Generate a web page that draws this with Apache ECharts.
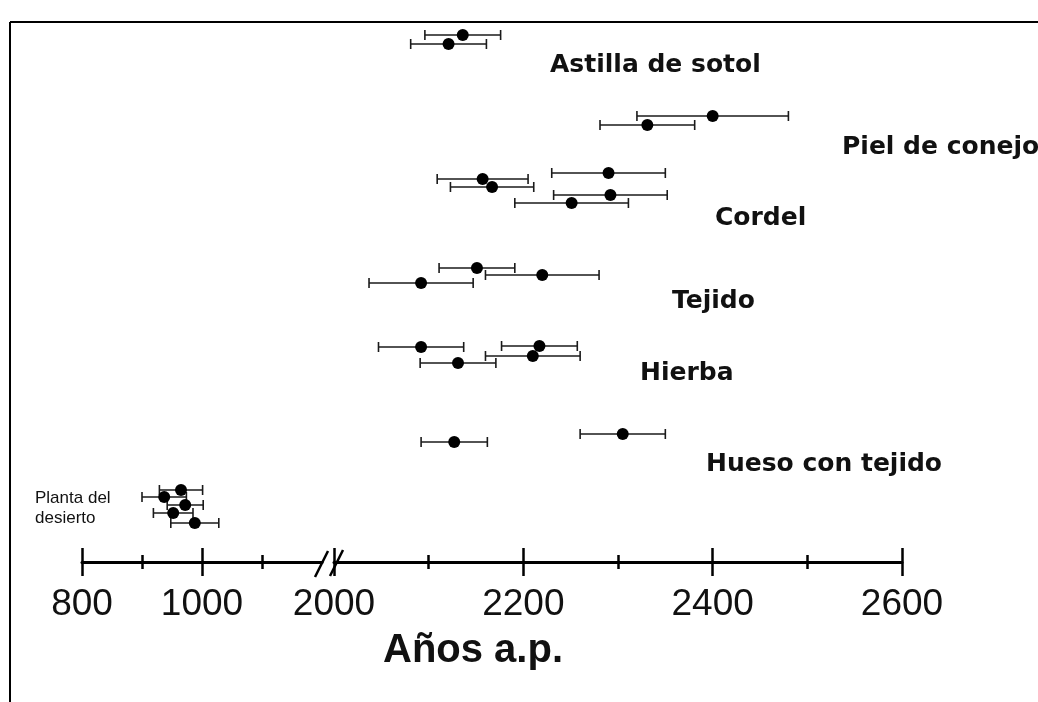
<!DOCTYPE html>
<html>
<head>
<meta charset="utf-8">
<script src="https://cdn.jsdelivr.net/npm/echarts@6/dist/echarts.min.js"></script>
<style>
  html, body { margin: 0; background: #fff; }
  #chart { width: 1038px; height: 702px; }
</style>
</head>
<body>
<div id="chart"></div>
<script>
// each point: [age (años a.p.), error (±), row (vertical place, 0 = top)]
const sotol = [[2136, 40, 2.6], [2121, 40, 4.4]]
const conejo = [[2400, 80, 18.8], [2331, 50, 20.6]]
const cordel = [[2290, 60, 30.2], [2157, 48, 31.4], [2167, 44, 33], [2292, 60, 34.6], [2251, 60, 36.2]]
const tejido = [[2151, 40, 49.2], [2220, 60, 50.6], [2092, 55, 52.2]]
const hierba = [[2092, 45, 65], [2217, 40, 64.8], [2210, 50, 66.8], [2131, 40, 68.2]]
const hueso = [[2305, 45, 82.4], [2127, 35, 84]]
const planta = [[965, 36, 93.6], [937, 37, 95], [972, 30, 96.6], [952, 33, 98.2], [988, 40, 100.2]]

const groupNames = ['Astilla de sotol', 'Piel de conejo', 'Cordel', 'Tejido', 'Hierba', 'Hueso con tejido']
const plantaName = 'Planta del\ndesierto'

const leftMajor = [800, 1000]
const leftMinor = [900, 1100]
const rightMajor = [2000, 2200, 2400, 2600]
const rightMinor = [2100, 2300, 2500]

const INK = '#111'
const segments = [
  { left: 82, width: 240, min: 800, max: 1200, major: leftMajor, minor: leftMinor },
  { left: 334, width: 568, min: 2000, max: 2600, major: rightMajor, minor: rightMinor },
]

// each segment gets 4 stacked grids (same bottom) so the ticks can cross the line:
// 0 = data + line + labels + long ticks down, 1 = long ticks up, 2 = short down, 3 = short up
const grids = []
const xAxes = []
const yAxes = []
segments.forEach((s) => {
  for (let k = 0; k < 4; k++) {
    const g = grids.length
    grids.push({ left: s.left, width: s.width, top: 22, height: 540 })
    const values = k < 2 ? s.major : s.minor
    const len = k < 2 ? 14 : 7
    xAxes.push({
      type: 'value', gridIndex: g, min: s.min, max: s.max, position: 'bottom',
      splitLine: { show: false },
      axisLine: { show: k === 0, onZero: false, lineStyle: { color: '#000', width: 3 } },
      axisTick: { show: true, customValues: values, length: len, inside: k % 2 === 1, lineStyle: { color: '#000', width: 2.5 } },
      axisLabel: {
        show: k === 0, customValues: s.major, margin: 24, fontSize: 37,
        fontFamily: 'Liberation Sans', color: INK, formatter: (v) => String(v),
      },
    })
    yAxes.push({ type: 'value', gridIndex: g, min: 0, max: 108, inverse: true, show: false })
  }
})

function renderErrorBar(params, api) {
  const y = api.value(1)
  const lo = api.coord([api.value(2), y])
  const hi = api.coord([api.value(3), y])
  const h = 5
  const style = { stroke: '#1a1a1a', lineWidth: 1.6 }
  return {
    type: 'group',
    children: [
      { type: 'line', shape: { x1: lo[0], y1: lo[1], x2: hi[0], y2: hi[1] }, style },
      { type: 'line', shape: { x1: lo[0], y1: lo[1] - h, x2: lo[0], y2: lo[1] + h }, style },
      { type: 'line', shape: { x1: hi[0], y1: hi[1] - h, x2: hi[0], y2: hi[1] + h }, style },
    ],
  }
}

function groupSeries(data, seg) {
  const gi = seg * 4
  return [
    {
      type: 'custom', xAxisIndex: gi, yAxisIndex: gi, renderItem: renderErrorBar,
      encode: { x: [2, 3], y: 1 }, z: 2,
      data: data.map((d) => [d[0], d[2], d[0] - d[1], d[0] + d[1]]),
    },
    {
      type: 'scatter', xAxisIndex: gi, yAxisIndex: gi, symbol: 'circle', symbolSize: 12,
      itemStyle: { color: '#000', opacity: 1 }, z: 3,
      data: data.map((d) => [d[0], d[2]]),
    },
  ]
}

const labelFont = 'bold 25px "DejaVu Sans"'
const labelSpots = [[550, 65], [842, 147], [715, 218], [672, 301], [640, 373], [706, 464]]

const chart = echarts.init(document.getElementById('chart'))
chart.setOption({
  animation: false,
  backgroundColor: '#fff',
  title: {
    text: 'Años a.p.', left: 378, top: 626,
    textStyle: { fontSize: 40, fontWeight: 'bold', fontFamily: 'Liberation Sans', color: INK },
  },
  grid: grids,
  xAxis: xAxes,
  yAxis: yAxes,
  series: [
    ...groupSeries(planta, 0),
    ...[sotol, conejo, cordel, tejido, hierba, hueso].flatMap((d) => groupSeries(d, 1)),
  ],
  graphic: [
    // frame (top + left edges)
    { type: 'line', shape: { x1: 10, y1: 22, x2: 1038, y2: 22 }, style: { stroke: '#000', lineWidth: 2 } },
    { type: 'line', shape: { x1: 10, y1: 22, x2: 10, y2: 702 }, style: { stroke: '#000', lineWidth: 2 } },
    // axis break marks
    { type: 'line', shape: { x1: 315, y1: 577, x2: 328, y2: 551 }, style: { stroke: '#000', lineWidth: 2.5 }, z: 10 },
    { type: 'line', shape: { x1: 330, y1: 576, x2: 343, y2: 550 }, style: { stroke: '#000', lineWidth: 2.5 }, z: 10 },
    ...groupNames.map((name, i) => ({
      type: 'text', x: labelSpots[i][0], y: labelSpots[i][1],
      style: { text: name, font: labelFont, fill: INK, align: 'left', verticalAlign: 'middle' },
    })),
    {
      type: 'text', x: 35, y: 488,
      style: { text: plantaName, font: '17px "Liberation Sans"', lineHeight: 20, fill: INK, align: 'left', verticalAlign: 'top' },
    },
  ],
})
</script>
</body>
</html>
